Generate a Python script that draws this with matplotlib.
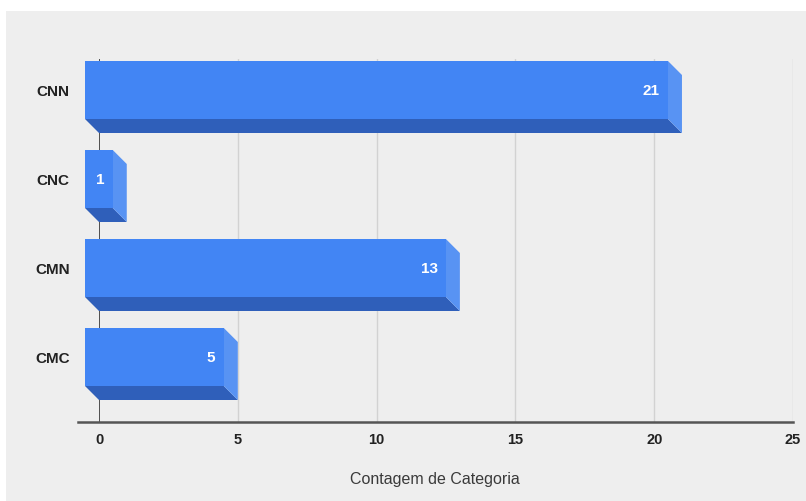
import matplotlib.pyplot as plt
from matplotlib.patches import Polygon, Rectangle

# Dados
categorias = ['CNN', 'CNC', 'CMN', 'CMC']
contagens = [21, 1, 13, 5]
x_ticks = [0, 5, 10, 15, 20, 25]
titulo_x = 'Contagem de Categoria'

plt.rcParams['font.family'] = ['Liberation Sans', 'DejaVu Sans']

W, H = 806, 502
fig = plt.figure(figsize=(W / 100, H / 100), dpi=100, facecolor='white')
# fundo cinza do painel
fig.patches.append(Rectangle((6 / W, 0), 1, 1 - 12 / H, transform=fig.transFigure,
                             facecolor='#eeeeee', edgecolor='none', zorder=-10))

# area do grafico (pixels)
x0_px, x1_px, y_top, y_bot = 99, 793, 60, 423
ax = fig.add_axes([x0_px / W, 1 - y_bot / H, (x1_px - x0_px) / W, (y_bot - y_top) / H])
ax.set_facecolor('none')

xmax = 25
px_per_unit = (x1_px - x0_px) / xmax
passo = 89.0  # pixels entre categorias
centro0 = 91.0
ax.set_xlim(0, xmax)
ax.set_ylim((y_bot - centro0) / passo, (y_top - centro0) / passo)

# profundidade 3D
dx = 14 / px_per_unit
dy = 14 / passo
h = 58 / passo

frente = '#4285f4'
baixo = '#2f5fba'
lado = '#5893f3'

for i, v in enumerate(contagens):
    t, b = i - h / 2, i + h / 2
    ax.add_patch(Polygon([(-dx, b), (v - dx, b), (v, b + dy), (0, b + dy)],
                         closed=True, facecolor=baixo, edgecolor='none', clip_on=False, zorder=3))
    ax.add_patch(Polygon([(v - dx, t), (v, t + dy), (v, b + dy), (v - dx, b)],
                         closed=True, facecolor=lado, edgecolor='none', clip_on=False, zorder=3))
    ax.add_patch(Rectangle((-dx, t), v, h, facecolor=frente, edgecolor='none',
                           clip_on=False, zorder=4))
    ax.annotate(str(v), xy=(v - dx, i), xytext=(-6, 0), textcoords='offset points',
                ha='right', va='center', color='white', fontsize=11, fontweight='bold', zorder=5)

# grade e eixos
for xt in x_ticks[1:]:
    ax.axvline(xt, color='#d2d2d2', lw=1, zorder=1)
ax.axvline(0, color='#333333', lw=1.2, zorder=2)
ax.plot([-21 / px_per_unit, xmax], [ax.get_ylim()[0]] * 2, color='#555555', lw=1.8,
        clip_on=False, zorder=2)

for s in ax.spines.values():
    s.set_visible(False)

ax.set_xticks(x_ticks)
ax.set_xticklabels([str(t) for t in x_ticks], fontsize=10.5, fontweight='bold', color='#222222')
ax.set_yticks(range(len(categorias)))
ax.set_yticklabels(categorias, fontsize=11, fontweight='bold', color='#222222')
ax.tick_params(axis='x', length=0, pad=7)
ax.tick_params(axis='y', length=0, pad=21)

fig.text(435 / W, 1 - 480 / H, titulo_x, ha='center', va='center', fontsize=11.5, color='#3a3a3a')

fig.savefig('out.png', dpi=100, facecolor='white')
